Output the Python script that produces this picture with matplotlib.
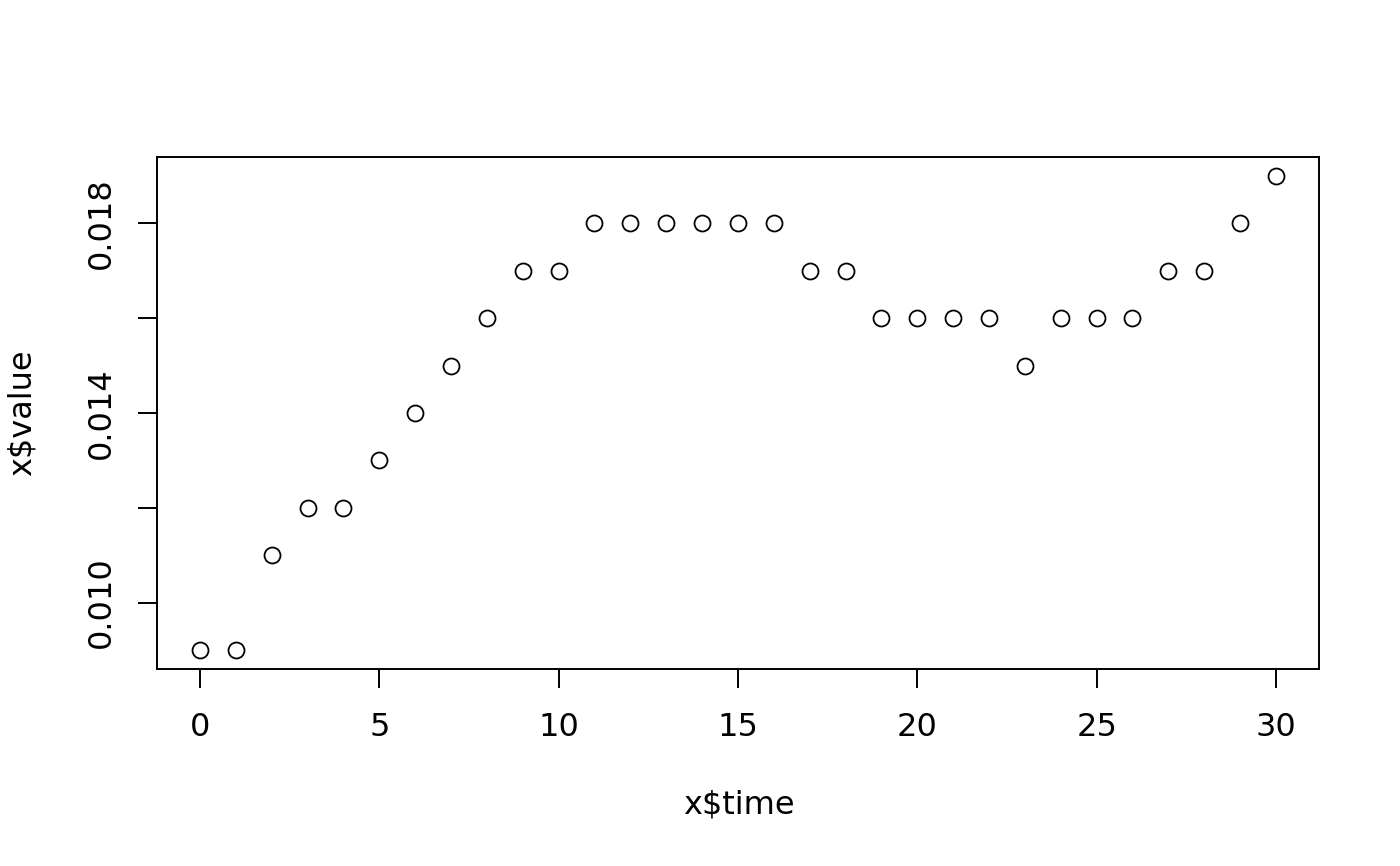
import matplotlib
matplotlib.use("Agg")
import matplotlib.pyplot as plt

# data
time = list(range(31))
value = [0.009, 0.009, 0.011, 0.012, 0.012, 0.013, 0.014, 0.015, 0.016, 0.017,
         0.017, 0.018, 0.018, 0.018, 0.018, 0.018, 0.018, 0.017, 0.017, 0.016,
         0.016, 0.016, 0.016, 0.015, 0.016, 0.016, 0.016, 0.017, 0.017, 0.018,
         0.019]
xticks = [0, 5, 10, 15, 20, 25, 30]
yticks = [0.010, 0.012, 0.014, 0.016, 0.018]
ylabels = ["0.010", "", "0.014", "", "0.018"]

fig = plt.figure(figsize=(14, 8.66), dpi=100)
ax = fig.add_axes([0.1121, 0.2275, 0.83, 0.5912])

ax.plot(time, value, "o", mfc="white", mec="black", mew=1.3, ms=11.5, ls="none")

xr = max(time) - min(time)
yr = max(value) - min(value)
ax.set_xlim(min(time) - 0.04 * xr, max(time) + 0.04 * xr)
ax.set_ylim(min(value) - 0.04 * yr, max(value) + 0.04 * yr)

ax.set_xticks(xticks)
ax.set_xticklabels([str(t) for t in xticks])
ax.set_yticks(yticks)
ax.set_yticklabels(ylabels, rotation=90, va="center")
ax.tick_params(direction="out", length=13.7, width=1.4, labelsize=23)
ax.tick_params(axis="x", pad=17)
ax.tick_params(axis="y", pad=15)

for s in ax.spines.values():
    s.set_linewidth(1.4)

fig.text(0.528, 0.0705, "x\\$time", ha="center", va="center", fontsize=23)
fig.text(0.0157, 0.523, "x\\$value", ha="center", va="center", fontsize=23, rotation=90)

fig.savefig("out.png", dpi=100)
